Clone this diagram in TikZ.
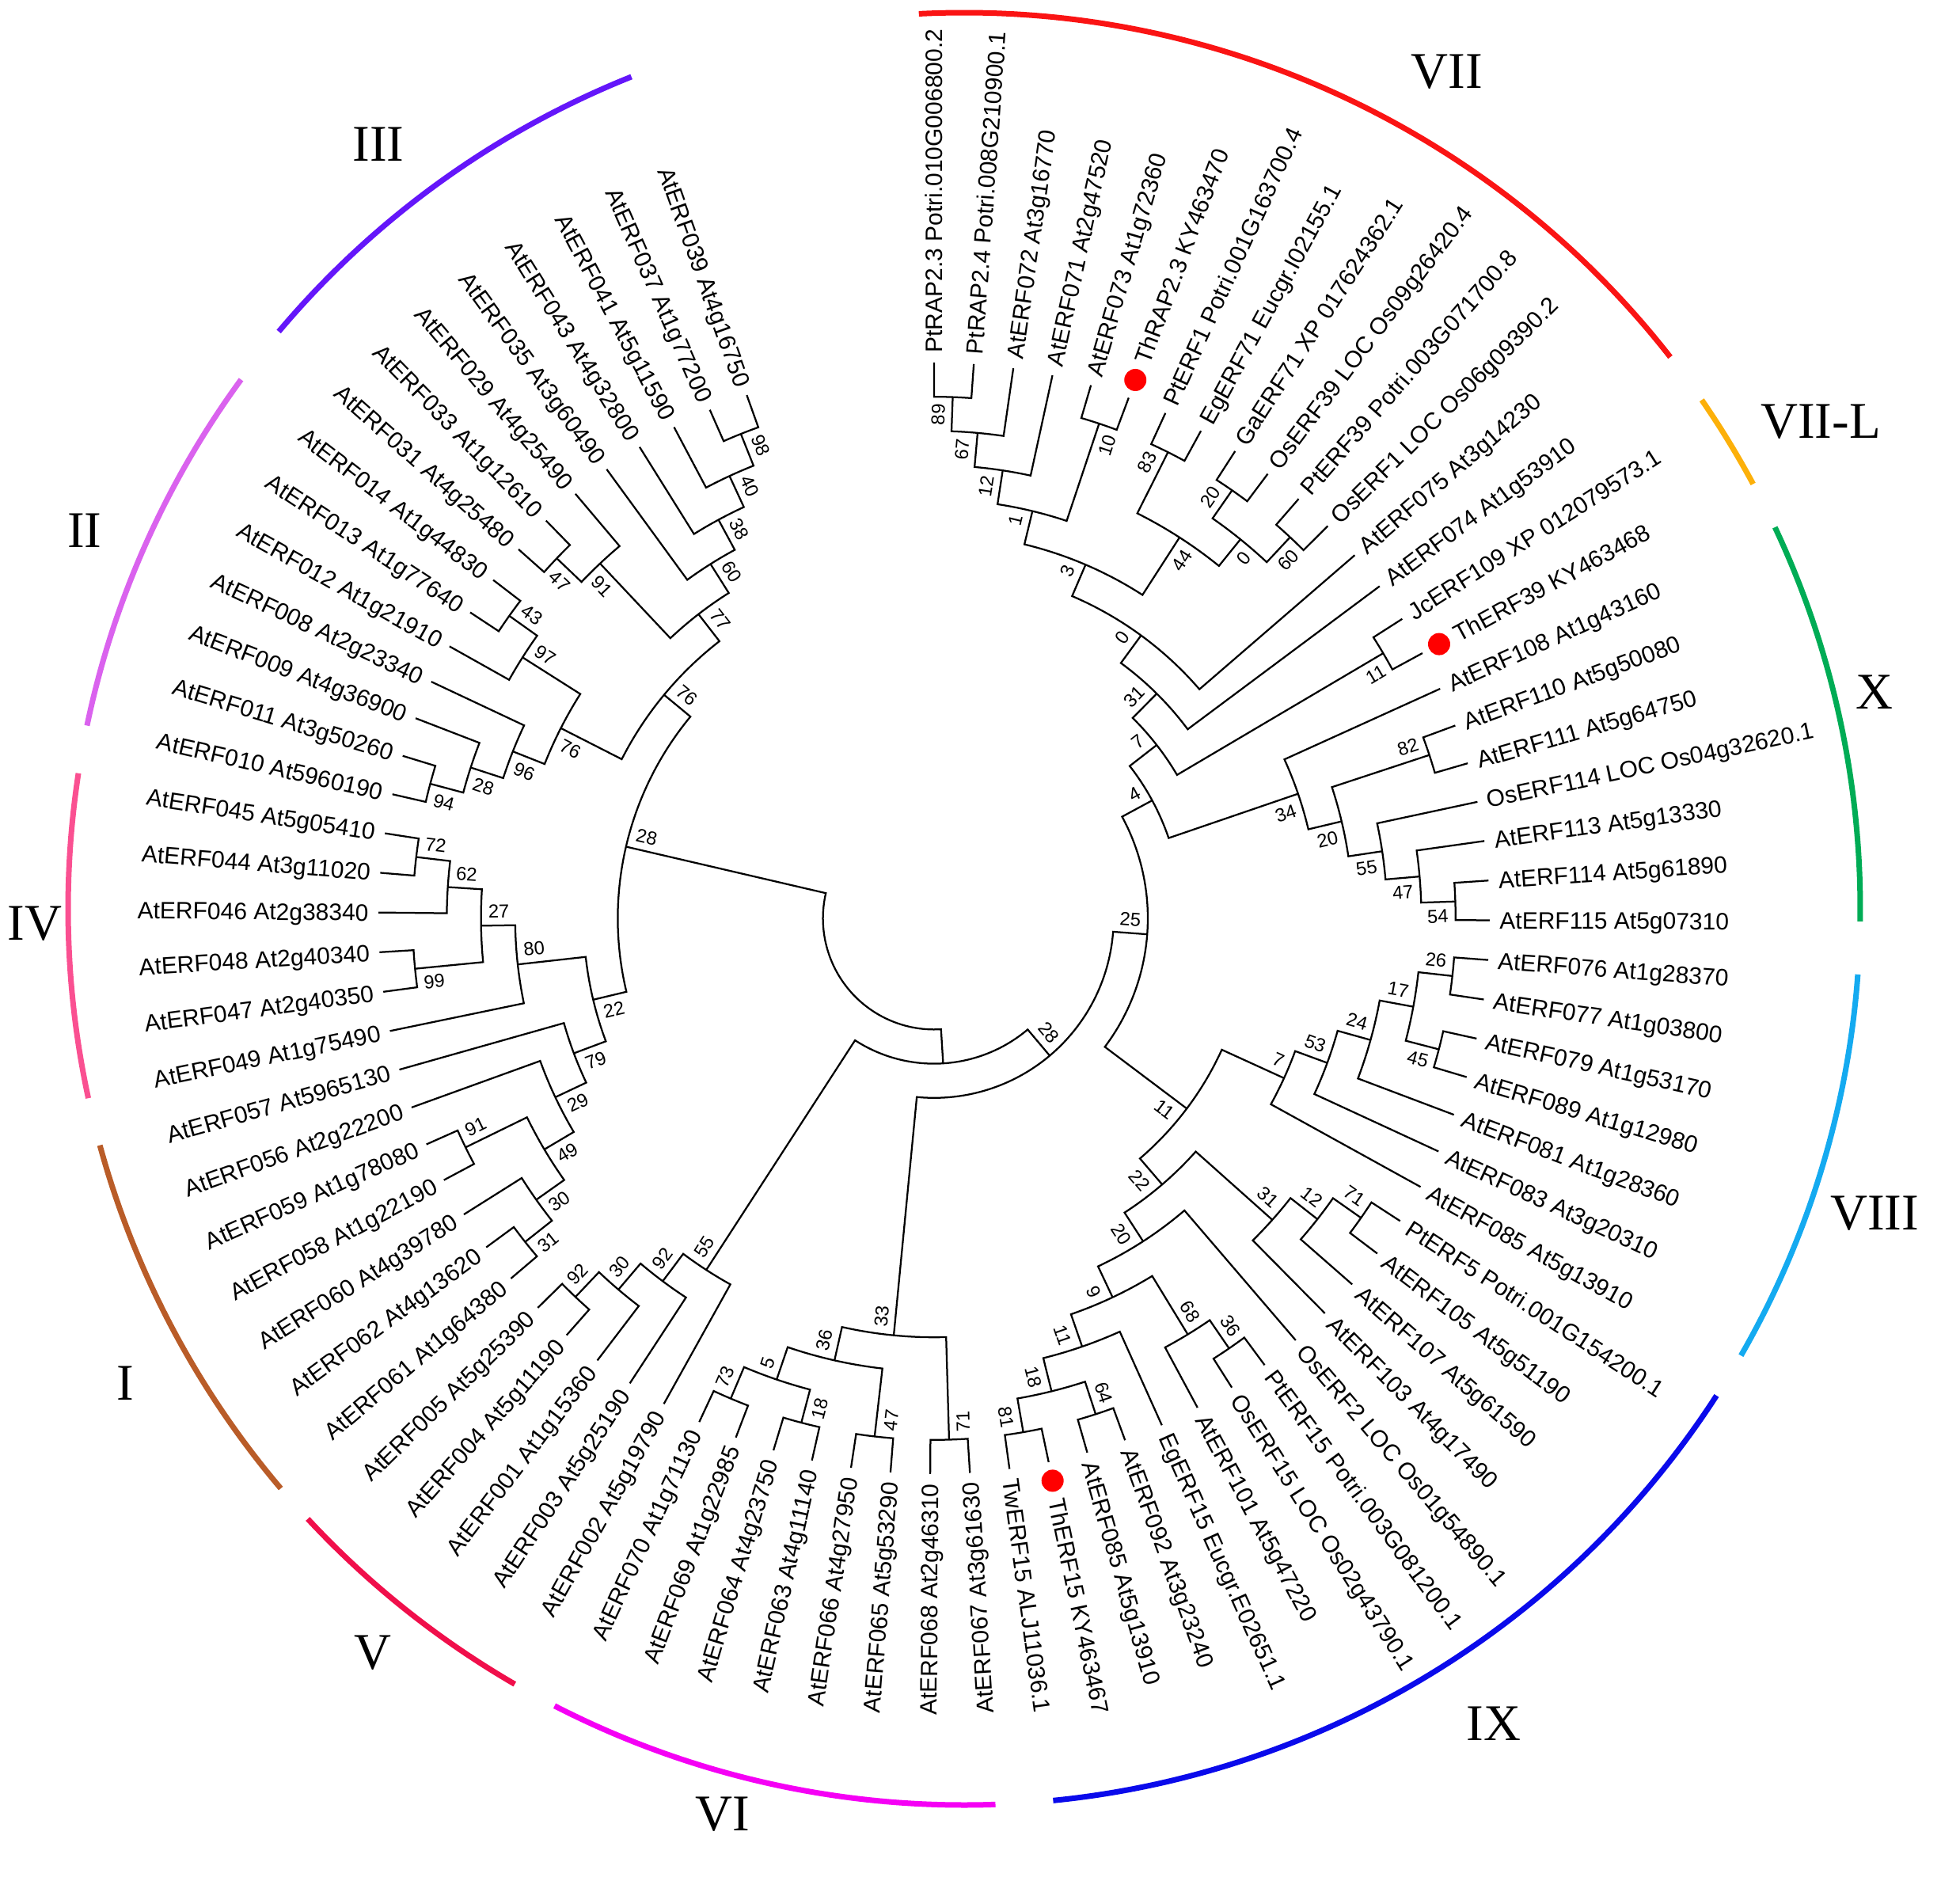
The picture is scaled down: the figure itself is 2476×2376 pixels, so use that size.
\documentclass[tikz,border=0pt]{standalone}
\usepackage{fontspec}
\newfontfamily\arialf{Liberation Sans}
\newfontfamily\tnrf{Liberation Serif}
\definecolor{cVII}{RGB}{250,20,20}
\definecolor{cVIIL}{RGB}{252,176,10}
\definecolor{cX}{RGB}{0,172,85}
\definecolor{cVIII}{RGB}{20,170,240}
\definecolor{cIX}{RGB}{10,10,235}
\definecolor{cVI}{RGB}{245,0,245}
\definecolor{cV}{RGB}{240,15,75}
\definecolor{cI}{RGB}{185,92,40}
\definecolor{cIV}{RGB}{250,80,145}
\definecolor{cII}{RGB}{218,98,238}
\definecolor{cIII}{RGB}{100,22,250}
\tikzset{
  br/.style={line width=0.9pt},
  lf/.style={font=\arialf\fontsize{12}{14}\selectfont, inner sep=0pt, text height=8.6pt, text depth=0pt},
  bs/.style={font=\arialf\fontsize{9.5}{11}\selectfont, inner sep=3.6pt, text height=6.8pt, text depth=0pt},
  sec/.style={font=\tnrf\fontsize{26}{30}\selectfont, inner sep=0pt},
  secarc/.style={line width=2.8pt},
  dotnode/.style={circle, fill=red, draw=none, inner sep=0pt, minimum size=11.2pt}
}
\def\angof#1{\csname ang#1\endcsname}
\def\hgtof#1{\csname ht#1\endcsname}
\newcommand\bslabel[2]{%
  \expandafter\ifx\csname bs#1\endcsname\empty\else
    \pgfmathtruncatemacro\bsright{\angof{#1}>-84.2}%
    \ifnum\bsright=1
      \pgfmathsetmacro\bsrot{\angof{#1}}%
      \ifnum#2=1 \def\bsanc{south east}\else\def\bsanc{north east}\fi
    \else
      \pgfmathsetmacro\bsrot{\angof{#1}+180}%
      \ifnum#2=1 \def\bsanc{north west}\else\def\bsanc{south west}\fi
    \fi
    \node[bs, anchor=\bsanc, rotate=\bsrot] (b#1) at (#1) {\csname bs#1\endcsname};%
  \fi}
\newcommand\inode[4]{%
  \pgfmathsetmacro\tmpa{(\angof{#2}+\angof{#3})/2}%
  \pgfmathtruncatemacro\tmph{max(\hgtof{#2},\hgtof{#3})+1}%
  \pgfmathsetmacro\tmpr{702-43.2*\tmph}%
  \expandafter\edef\csname ang#1\endcsname{\tmpa}%
  \expandafter\edef\csname ht#1\endcsname{\tmph}%
  \expandafter\def\csname bs#1\endcsname{#4}%
  \coordinate (#1) at (\tmpa:\tmpr);
  \draw[br] (#2) -- (\angof{#2}:\tmpr) arc[start angle=\angof{#2}, end angle=\angof{#3}, radius=\tmpr*0.4pt] -- (#3);
  \bslabel{#2}{1}\bslabel{#3}{0}}
\newcommand\leaf[3]{%
  \pgfmathsetmacro\lfa{90-4.1*(#1-1)}%
  \expandafter\edef\csname angL#1\endcsname{\lfa}%
  \expandafter\def\csname htL#1\endcsname{0}%
  \expandafter\def\csname bsL#1\endcsname{}%
  \coordinate (L#1) at (\lfa:702);
  \ifnum#3=1 \def\lfr{749}\node[dotnode] (D#1) at (\lfa:726) {};\else\def\lfr{714}\fi
  \pgfmathtruncatemacro\lfright{\lfa>-84.2}%
  \ifnum\lfright=1
    \node[lf, anchor=west, rotate=\lfa] (T#1) at (\lfa:\lfr) {#2};
  \else
    \pgfmathsetmacro\lfrot{\lfa+180}%
    \node[lf, anchor=east, rotate=\lfrot] (T#1) at (\lfa:\lfr) {#2};
  \fi}
\begin{document}
\begin{tikzpicture}[x=0.4pt,y=0.4pt]
\useasboundingbox (-1180,-1216) rectangle (1296,1160);
% ---------------- leaves
\leaf{1}{PtRAP2.3 Potri.010G006800.2}{0}
\leaf{2}{PtRAP2.4 Potri.008G210900.1}{0}
\leaf{3}{AtERF072 At3g16770}{0}
\leaf{4}{AtERF071 At2g47520}{0}
\leaf{5}{AtERF073 At1g72360}{0}
\leaf{6}{ThRAP2.3 KY463470}{1}
\leaf{7}{PtERF1 Potri.001G163700.4}{0}
\leaf{8}{EgERF71 Eucgr.I02155.1}{0}
\leaf{9}{GaERF71 XP 017624362.1}{0}
\leaf{10}{OsERF39 LOC Os09g26420.4}{0}
\leaf{11}{PtERF39 Potri.003G071700.8}{0}
\leaf{12}{OsERF1 LOC Os06g09390.2}{0}
\leaf{13}{AtERF075 At3g14230}{0}
\leaf{14}{AtERF074 At1g53910}{0}
\leaf{15}{JcERF109 XP 012079573.1}{0}
\leaf{16}{ThERF39 KY463468}{1}
\leaf{17}{AtERF108 At1g43160}{0}
\leaf{18}{AtERF110 At5g50080}{0}
\leaf{19}{AtERF111 At5g64750}{0}
\leaf{20}{OsERF114 LOC Os04g32620.1}{0}
\leaf{21}{AtERF113 At5g13330}{0}
\leaf{22}{AtERF114 At5g61890}{0}
\leaf{23}{AtERF115 At5g07310}{0}
\leaf{24}{AtERF076 At1g28370}{0}
\leaf{25}{AtERF077 At1g03800}{0}
\leaf{26}{AtERF079 At1g53170}{0}
\leaf{27}{AtERF089 At1g12980}{0}
\leaf{28}{AtERF081 At1g28360}{0}
\leaf{29}{AtERF083 At3g20310}{0}
\leaf{30}{AtERF085 At5g13910}{0}
\leaf{31}{PtERF5 Potri.001G154200.1}{0}
\leaf{32}{AtERF105 At5g51190}{0}
\leaf{33}{AtERF107 At5g61590}{0}
\leaf{34}{AtERF103 At4g17490}{0}
\leaf{35}{OsERF2 LOC Os01g54890.1}{0}
\leaf{36}{PtERF15 Potri.003G081200.1}{0}
\leaf{37}{OsERF15 LOC Os02g43790.1}{0}
\leaf{38}{AtERF101 At5g47220}{0}
\leaf{39}{EgERF15 Eucgr.E02651.1}{0}
\leaf{40}{AtERF092 At3g23240}{0}
\leaf{41}{AtERF085 At5g13910}{0}
\leaf{42}{ThERF15 KY463467}{1}
\leaf{43}{TwERF15 ALJ11036.1}{0}
\leaf{44}{AtERF067 At3g61630}{0}
\leaf{45}{AtERF068 At2g46310}{0}
\leaf{46}{AtERF065 At5g53290}{0}
\leaf{47}{AtERF066 At4g27950}{0}
\leaf{48}{AtERF063 At4g11140}{0}
\leaf{49}{AtERF064 At4g23750}{0}
\leaf{50}{AtERF069 At1g22985}{0}
\leaf{51}{AtERF070 At1g71130}{0}
\leaf{52}{AtERF002 At5g19790}{0}
\leaf{53}{AtERF003 At5g25190}{0}
\leaf{54}{AtERF001 At1g15360}{0}
\leaf{55}{AtERF004 At5g11190}{0}
\leaf{56}{AtERF005 At5g25390}{0}
\leaf{57}{AtERF061 At1g64380}{0}
\leaf{58}{AtERF062 At4g13620}{0}
\leaf{59}{AtERF060 At4g39780}{0}
\leaf{60}{AtERF058 At1g22190}{0}
\leaf{61}{AtERF059 At1g78080}{0}
\leaf{62}{AtERF056 At2g22200}{0}
\leaf{63}{AtERF057 At5965130}{0}
\leaf{64}{AtERF049 At1g75490}{0}
\leaf{65}{AtERF047 At2g40350}{0}
\leaf{66}{AtERF048 At2g40340}{0}
\leaf{67}{AtERF046 At2g38340}{0}
\leaf{68}{AtERF044 At3g11020}{0}
\leaf{69}{AtERF045 At5g05410}{0}
\leaf{70}{AtERF010 At5960190}{0}
\leaf{71}{AtERF011 At3g50260}{0}
\leaf{72}{AtERF009 At4g36900}{0}
\leaf{73}{AtERF008 At2g23340}{0}
\leaf{74}{AtERF012 At1g21910}{0}
\leaf{75}{AtERF013 At1g77640}{0}
\leaf{76}{AtERF014 At1g44830}{0}
\leaf{77}{AtERF031 At4g25480}{0}
\leaf{78}{AtERF033 At1g12610}{0}
\leaf{79}{AtERF029 At4g25490}{0}
\leaf{80}{AtERF035 At3g60490}{0}
\leaf{81}{AtERF043 At4g32800}{0}
\leaf{82}{AtERF041 At5g11590}{0}
\leaf{83}{AtERF037 At1g77200}{0}
\leaf{84}{AtERF039 At4g16750}{0}
% ---------------- internal nodes (VII)
\inode{n89}{L1}{L2}{89}
\inode{n67}{n89}{L3}{67}
\inode{n12}{n67}{L4}{12}
\inode{n10}{L5}{L6}{10}
\inode{n1}{n12}{n10}{1}
\inode{n83}{L7}{L8}{83}
\inode{n20a}{L9}{L10}{20}
\inode{n60a}{L11}{L12}{60}
\inode{n0a}{n20a}{n60a}{0}
\inode{n44}{n83}{n0a}{44}
\inode{n3}{n1}{n44}{3}
\inode{n0b}{n3}{L13}{0}
\inode{n31}{n0b}{L14}{31}
\inode{n11c}{L15}{L16}{11}
\inode{n7}{n31}{n11c}{7}
% X
\inode{n82}{L18}{L19}{82}
\inode{n54}{L22}{L23}{54}
\inode{n47}{L21}{n54}{47}
\inode{n55}{L20}{n47}{55}
\inode{n20x}{n82}{n55}{20}
\inode{n34}{L17}{n20x}{34}
\inode{n4}{n7}{n34}{4}
% VIII
\inode{n26}{L24}{L25}{26}
\inode{n45}{L26}{L27}{45}
\inode{n17}{n26}{n45}{17}
\inode{n24}{n17}{L28}{24}
\inode{n53}{n24}{L29}{53}
\inode{n7v}{n53}{L30}{7}
% IX
\inode{n71}{L31}{L32}{71}
\inode{n12v}{n71}{L33}{12}
\inode{n31v}{n12v}{L34}{31}
\inode{n36}{L36}{L37}{36}
\inode{n68}{n36}{L38}{68}
\inode{n64}{L40}{L41}{64}
\inode{n81}{L42}{L43}{81}
\inode{n18}{n64}{n81}{18}
\inode{n11e}{L39}{n18}{11}
\inode{n9}{n68}{n11e}{9}
\inode{n20}{L35}{n9}{20}
\inode{n22}{n31v}{n20}{22}
\inode{n11d}{n7v}{n22}{11}
\inode{n25}{n4}{n11d}{25}
% VI
\inode{n71b}{L44}{L45}{71}
\inode{n47b}{L46}{L47}{47}
\inode{n18b}{L48}{L49}{18}
\inode{n73}{L50}{L51}{73}
\inode{n5}{n18b}{n73}{5}
\inode{n36b}{n47b}{n5}{36}
\inode{n33}{n71b}{n36b}{33}
\inode{n28r}{n25}{n33}{28}
% V
\inode{n92a}{L55}{L56}{92}
\inode{n30}{L54}{n92a}{30}
\inode{n92b}{L53}{n30}{92}
\inode{n55L}{L52}{n92b}{55}
\inode{nB}{n28r}{n55L}{}
% I
\inode{n31c}{L57}{L58}{31}
\inode{n30c}{n31c}{L59}{30}
\inode{n91}{L60}{L61}{91}
\inode{n49}{n30c}{n91}{49}
\inode{n29}{n49}{L62}{29}
\inode{n79}{n29}{L63}{79}
% IV
\inode{n99}{L65}{L66}{99}
\inode{n72}{L68}{L69}{72}
\inode{n62}{L67}{n72}{62}
\inode{n27}{n99}{n62}{27}
\inode{n80}{L64}{n27}{80}
\inode{n22L}{n79}{n80}{22}
% II
\inode{n94}{L70}{L71}{94}
\inode{n28b}{n94}{L72}{28}
\inode{n96}{n28b}{L73}{96}
\inode{n43}{L75}{L76}{43}
\inode{n97}{L74}{n43}{97}
\inode{n76b}{n96}{n97}{76}
% III
\inode{n47c}{L77}{L78}{47}
\inode{n91b}{n47c}{L79}{91}
\inode{n98}{L83}{L84}{98}
\inode{n40}{L82}{n98}{40}
\inode{n38}{L81}{n40}{38}
\inode{n60}{L80}{n38}{60}
\inode{n77}{n91b}{n60}{77}
\inode{n76a}{n76b}{n77}{76}
\inode{n28L}{n22L}{n76a}{28}
\inode{root}{nB}{n28L}{}
% ---------------- group arcs
\draw[secarc, cVII]  ([shift={(38,12)}]92.9:1132) arc[start angle=92.9, end angle=38.0, radius=452.8pt];
\draw[secarc, cVIIL] ([shift={(38,12)}]34.6:1132) arc[start angle=34.6, end angle=28.3, radius=452.8pt];
\draw[secarc, cX]    ([shift={(38,12)}]25.2:1132) arc[start angle=25.2, end angle=-0.8, radius=452.8pt];
\draw[secarc, cVIII] ([shift={(38,12)}]-4.2:1132) arc[start angle=-4.2, end angle=-29.9, radius=452.8pt];
\draw[secarc, cIX]   ([shift={(38,12)}]-32.9:1132) arc[start angle=-32.9, end angle=-84.3, radius=452.8pt];
\draw[secarc, cVI]   ([shift={(38,12)}]-88.0:1132) arc[start angle=-88.0, end angle=-117.2, radius=452.8pt];
\draw[secarc, cV]    ([shift={(38,12)}]-120.1:1132) arc[start angle=-120.1, end angle=-137.1, radius=452.8pt];
\draw[secarc, cI]    ([shift={(38,12)}]-139.7:1132) arc[start angle=-139.7, end angle=-164.7, radius=452.8pt];
\draw[secarc, cIV]   ([shift={(38,12)}]-167.8:1132) arc[start angle=-167.8, end angle=-188.7, radius=452.8pt];
\draw[secarc, cII]   ([shift={(38,12)}]-191.8:1132) arc[start angle=-191.8, end angle=-216.2, radius=452.8pt];
\draw[secarc, cIII]  ([shift={(38,12)}]-220.1:1132) arc[start angle=-220.1, end angle=-248.2, radius=452.8pt];
% ---------------- group labels
\node[sec] (sVII) at (648,1069) {VII};
\node[sec] (sVIIL) at (1120,627) {VII-L};
\node[sec] (sX) at (1188,286) {X};
\node[sec] (sVIII) at (1188,-373) {VIII};
\node[sec] (sIX) at (707,-1017) {IX};
\node[sec] (sVI) at (-267,-1132) {VI};
\node[sec] (sV) at (-709,-928) {V};
\node[sec] (sI) at (-1022,-587) {I};
\node[sec] (sIV) at (-1136,-7) {IV};
\node[sec] (sII) at (-1073,490) {II};
\node[sec] (sIII) at (-702,978) {III};
\end{tikzpicture}
\end{document}
